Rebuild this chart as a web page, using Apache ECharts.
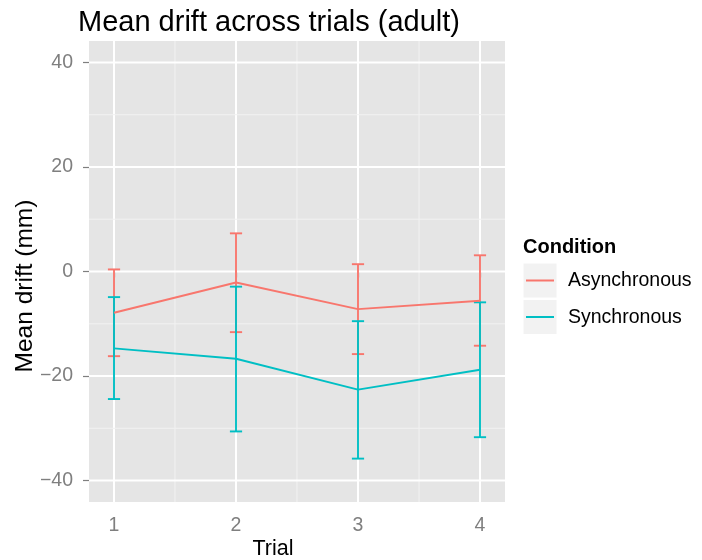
<!DOCTYPE html>
<html>
<head>
<meta charset="utf-8">
<script src="https://cdn.jsdelivr.net/npm/echarts@6/dist/echarts.min.js"></script>
<style>
  html, body { margin: 0; padding: 0; background: #ffffff; }
  #chart { width: 702px; height: 560px; }
</style>
</head>
<body>
<div id="chart"></div>
<script>
// Mean drift per trial, with error bar bounds, for each condition
const trials = [1, 2, 3, 4];
const conditions = ['Asynchronous', 'Synchronous'];
const asyncMean = [-7.9, -2.1, -7.2, -5.6];
const asyncLow = [-16.2, -11.6, -15.8, -14.2];
const asyncHigh = [0.4, 7.3, 1.4, 3.1];
const syncMean = [-14.7, -16.7, -22.6, -18.8];
const syncLow = [-24.4, -30.6, -35.8, -31.7];
const syncHigh = [-4.9, -2.9, -9.5, -5.9];
const yTicks = [-40, -20, 0, 20, 40];
const yMinorTicks = [-30, -10, 10, 30];
const xMinorTicks = [1.5, 2.5, 3.5];

const colors = ['#F8766D', '#00BFC4'];
const X_MIN = 0.795, X_MAX = 4.205;
const Y_MIN = -44.1, Y_MAX = 44.1;
const FONT = '"Liberation Sans", Arial, sans-serif';

const chart = echarts.init(document.getElementById('chart'), null, { renderer: 'canvas' });

// panel grid lines: [x, y, orientation (0 = vertical, 1 = horizontal), major flag]
const gridData = [];
trials.forEach(v => gridData.push([v, 0, 0, 1]));
xMinorTicks.forEach(v => gridData.push([v, 0, 0, 0]));
yTicks.forEach(v => gridData.push([1, v, 1, 1]));
yMinorTicks.forEach(v => gridData.push([1, v, 1, 0]));

function gridLineItem(params, api) {
  const cs = params.coordSys;
  const vertical = api.value(2) === 0;
  const major = api.value(3) === 1;
  const p = api.coord([api.value(0), api.value(1)]);
  const shape = vertical
    ? { x1: p[0], y1: cs.y, x2: p[0], y2: cs.y + cs.height }
    : { x1: cs.x, y1: p[1], x2: cs.x + cs.width, y2: p[1] };
  return {
    type: 'line',
    shape: shape,
    style: { stroke: major ? '#FFFFFF' : '#F2F2F2', lineWidth: major ? 2 : 1 },
    silent: true
  };
}

function errorBarItem(color) {
  return function (params, api) {
    const x = api.value(0);
    const lo = api.coord([x, api.value(1)]);
    const hi = api.coord([x, api.value(2)]);
    const half = api.size([0.1, 0])[0] / 2;
    const style = { stroke: color, lineWidth: 1.9, fill: null };
    return {
      type: 'group',
      children: [
        { type: 'line', shape: { x1: lo[0], y1: lo[1], x2: hi[0], y2: hi[1] }, style: style },
        { type: 'line', shape: { x1: hi[0] - half, y1: hi[1], x2: hi[0] + half, y2: hi[1] }, style: style },
        { type: 'line', shape: { x1: lo[0] - half, y1: lo[1], x2: lo[0] + half, y2: lo[1] }, style: style }
      ]
    };
  };
}

const means = [asyncMean, syncMean];
const lows = [asyncLow, syncLow];
const highs = [asyncHigh, syncHigh];

const series = [{
  type: 'custom',
  name: 'grid',
  z: 1,
  silent: true,
  renderItem: gridLineItem,
  encode: { x: 0, y: 1 },
  data: gridData
}];

conditions.forEach((name, i) => {
  series.push({
    type: 'custom',
    name: name + ' error',
    z: 3,
    renderItem: errorBarItem(colors[i]),
    encode: { x: 0, y: [1, 2] },
    data: trials.map((t, k) => [t, lows[i][k], highs[i][k]])
  });
});
conditions.forEach((name, i) => {
  series.push({
    type: 'line',
    name: name,
    z: 4,
    showSymbol: false,
    symbol: 'none',
    lineStyle: { color: colors[i], width: 1.9 },
    itemStyle: { color: colors[i] },
    data: trials.map((t, k) => [t, means[i][k]])
  });
});

// legend key boxes, drawn beside the panel
const legendItems = [];
conditions.forEach((name, i) => {
  const top = 263 + i * 36.5;
  legendItems.push({
    type: 'rect',
    shape: { x: 523, y: top, width: 34, height: 35 },
    style: { fill: '#F2F2F2', stroke: '#FFFFFF', lineWidth: 1 }
  });
  legendItems.push({
    type: 'line',
    shape: { x1: 526, y1: top + 17.5, x2: 554, y2: top + 17.5 },
    style: { stroke: colors[i], lineWidth: 2 }
  });
  legendItems.push({
    type: 'text',
    style: {
      x: 568, y: top + 18, text: name, fill: '#000000',
      font: '19.5px ' + FONT, textAlign: 'left', textVerticalAlign: 'middle'
    }
  });
});

chart.setOption({
  backgroundColor: '#FFFFFF',
  animation: false,
  grid: {
    left: 89, top: 41, width: 416, height: 461,
    show: true, backgroundColor: '#E5E5E5', borderWidth: 0
  },
  xAxis: {
    type: 'value',
    min: X_MIN, max: X_MAX,
    axisLine: { show: false },
    splitLine: { show: false },
    axisTick: { show: true, length: 6, customValues: trials, lineStyle: { color: '#7F7F7F', width: 1.2 } },
    axisLabel: { customValues: trials, color: '#7F7F7F', fontSize: 19.5, fontFamily: FONT, margin: 14 }
  },
  yAxis: {
    type: 'value',
    min: Y_MIN, max: Y_MAX,
    axisLine: { show: false },
    splitLine: { show: false },
    axisTick: { show: true, length: 6, customValues: yTicks, lineStyle: { color: '#7F7F7F', width: 1.2 } },
    axisLabel: {
      customValues: yTicks, color: '#7F7F7F', fontSize: 19.5, fontFamily: FONT, margin: 16,
      formatter: v => (v < 0 ? '\u2212' + Math.abs(v) : String(v))
    }
  },
  series: series,
  graphic: [
    {
      type: 'text',
      style: {
        x: 78, y: 23, text: 'Mean drift across trials (adult)', fill: '#000000',
        font: '29px ' + FONT, textAlign: 'left', textVerticalAlign: 'middle'
      }
    },
    {
      type: 'text',
      x: 25, y: 286, rotation: Math.PI / 2,
      style: {
        x: 0, y: 0, text: 'Mean drift (mm)', fill: '#000000',
        font: '24.5px ' + FONT, textAlign: 'center', textVerticalAlign: 'middle'
      }
    },
    {
      type: 'text',
      style: {
        x: 273, y: 549, text: 'Trial', fill: '#000000',
        font: '21.5px ' + FONT, textAlign: 'center', textVerticalAlign: 'middle'
      }
    },
    {
      type: 'text',
      style: {
        x: 523, y: 247, text: 'Condition', fill: '#000000',
        font: 'bold 20px ' + FONT, textAlign: 'left', textVerticalAlign: 'middle'
      }
    }
  ].concat(legendItems)
});
</script>
</body>
</html>
